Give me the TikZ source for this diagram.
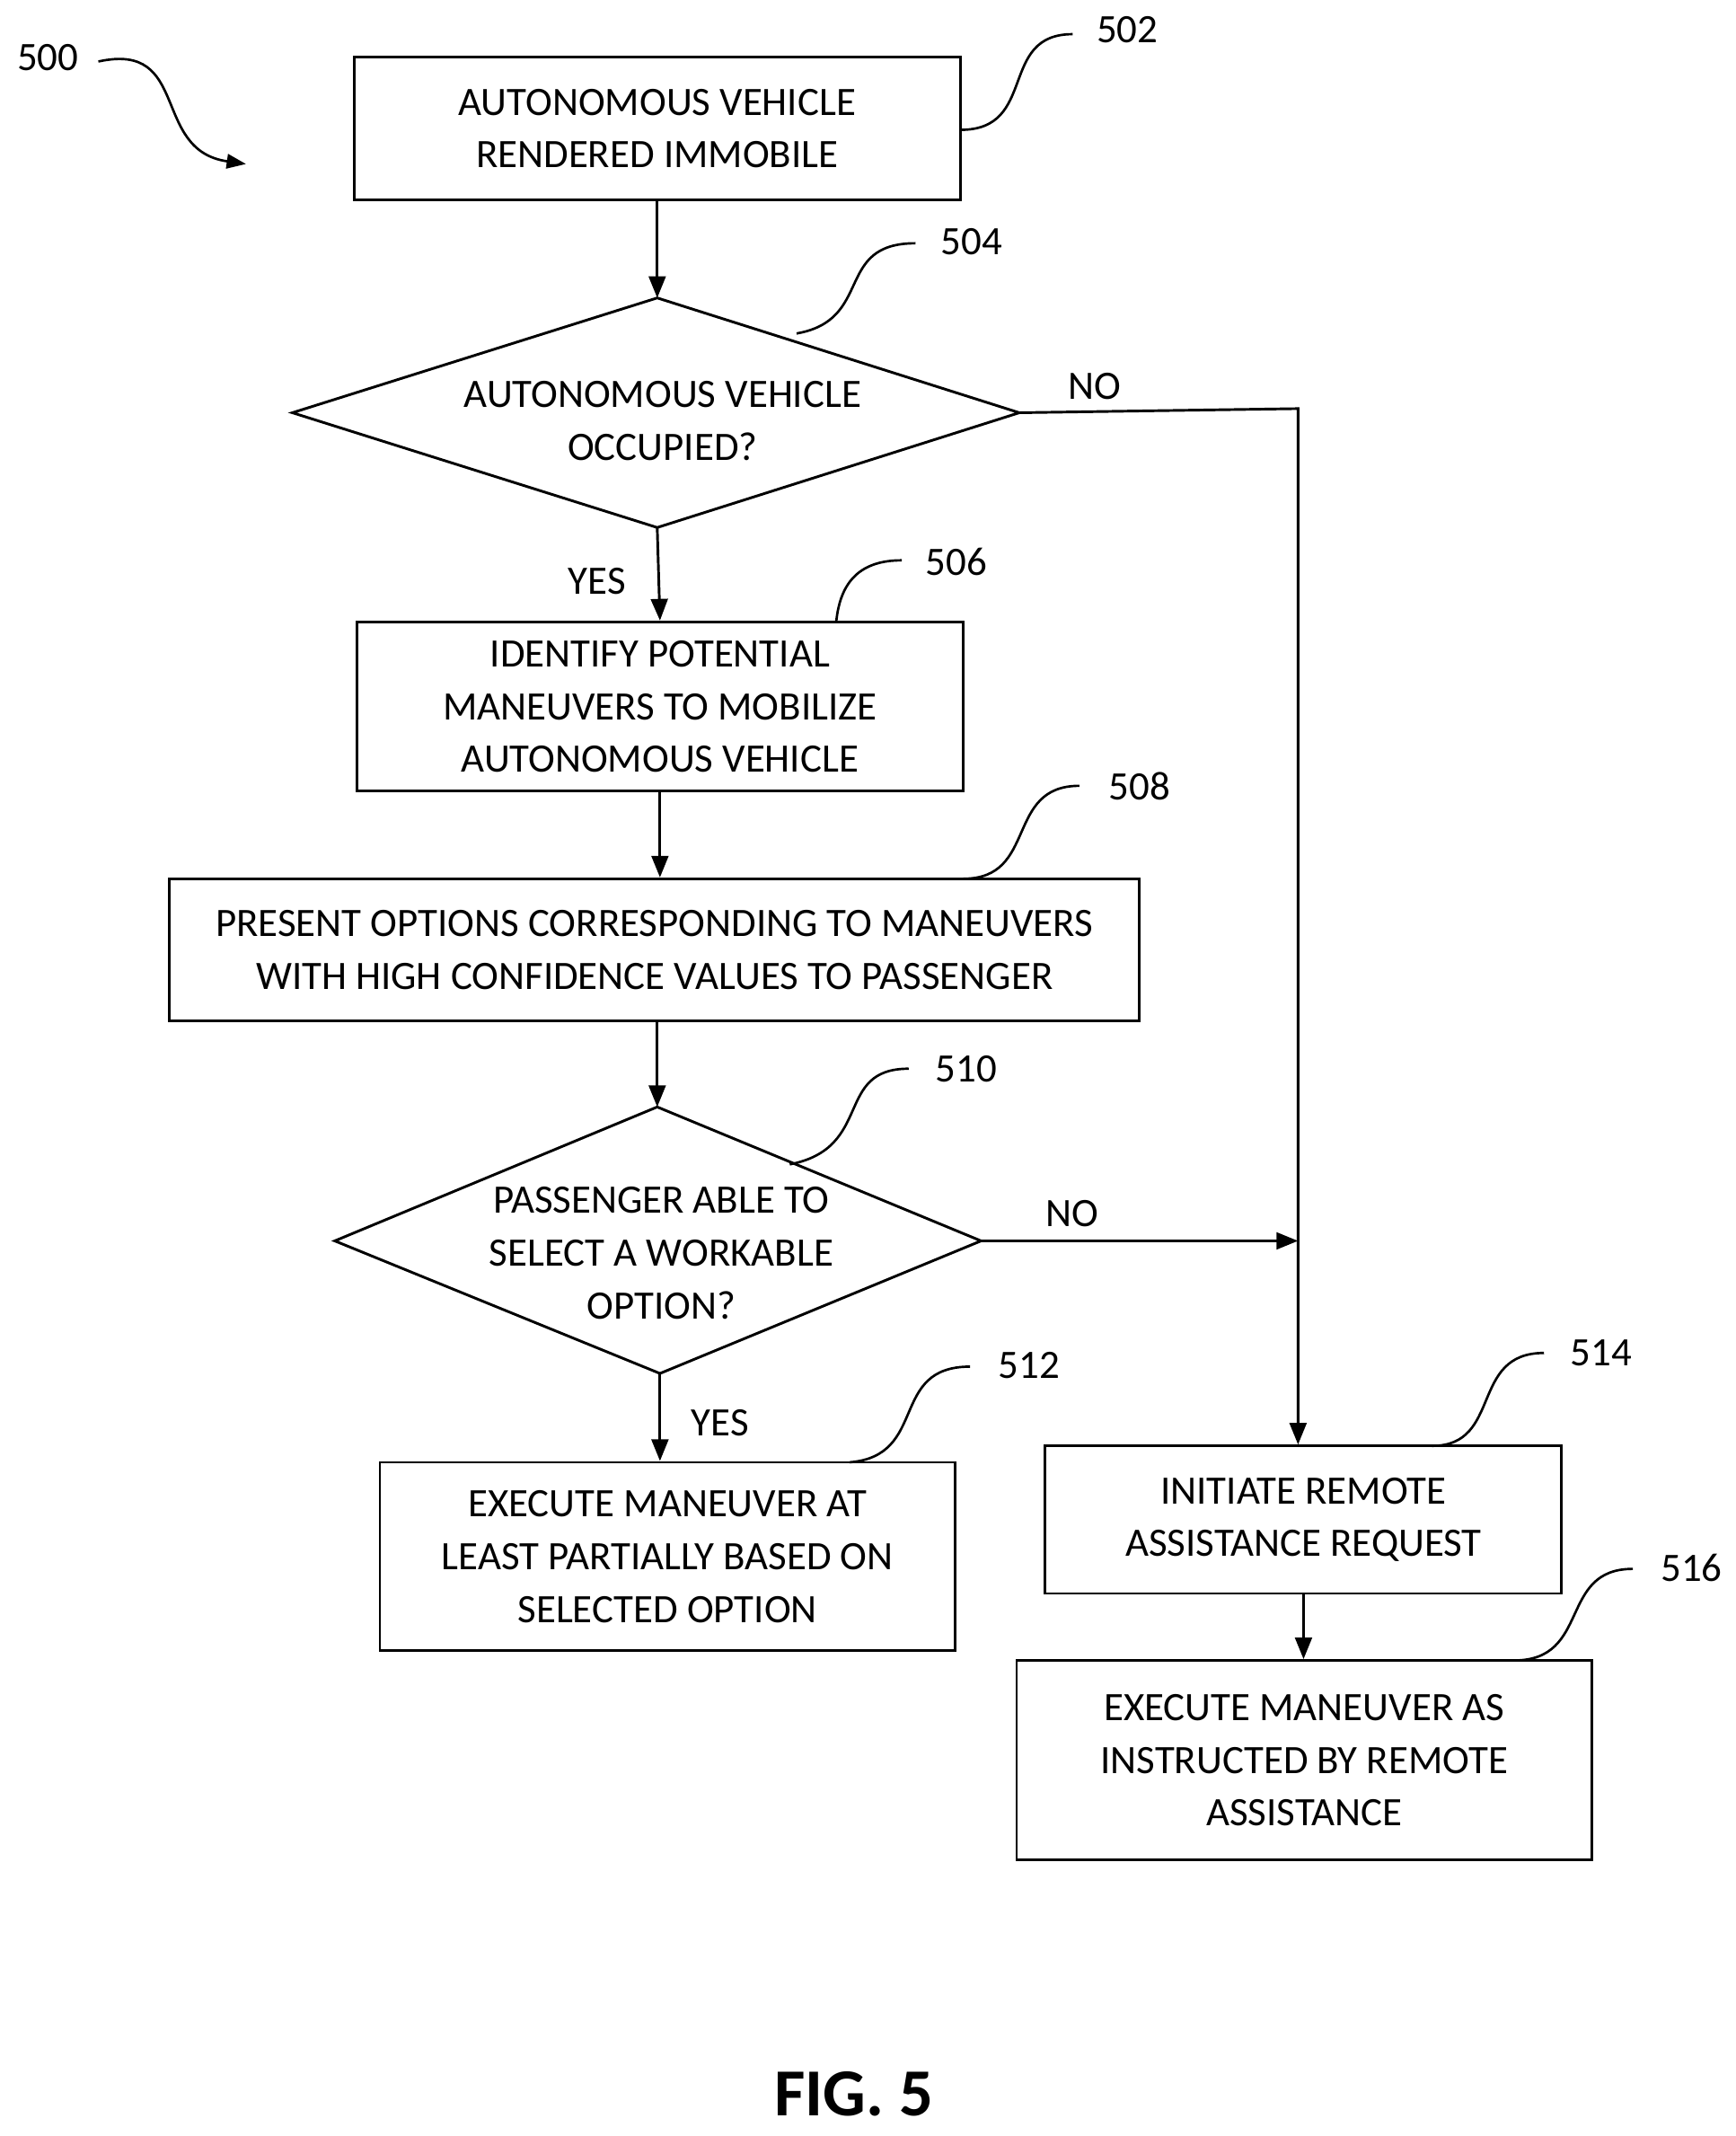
\documentclass[tikz,border=0pt]{standalone}
\usepackage{fontspec}
\setmainfont{Carlito}
\usetikzlibrary{arrows.meta}
\begin{document}
\begin{tikzpicture}[x=0.02cm,y=-0.02cm,
  every node/.style={font=\fontsize{16.8}{22}\selectfont},
  box/.style={draw,line width=1.1pt,align=center,inner sep=0pt},
  ln/.style={line width=1.1pt},
  arr/.style={line width=1.1pt,-{Triangle[length=9pt,width=7pt]}},
  lead/.style={line width=1pt}]
\useasboundingbox (0,0) rectangle (1270,1563);
% boxes
\node[box,minimum width=8.88cm,minimum height=2.08cm] (b502) at (481,94) {AUTONOMOUS VEHICLE\\RENDERED IMMOBILE};
\node[box,minimum width=8.88cm,minimum height=2.48cm] (b506) at (483,517) {IDENTIFY POTENTIAL\\MANEUVERS TO MOBILIZE\\AUTONOMOUS VEHICLE};
\node[box,minimum width=14.2cm,minimum height=2.08cm] (b508) at (479,695) {PRESENT OPTIONS CORRESPONDING TO MANEUVERS\\WITH HIGH CONFIDENCE VALUES TO PASSENGER};
\node[box,minimum width=8.42cm,minimum height=2.76cm] (b512) at (488.5,1139) {EXECUTE MANEUVER AT\\LEAST PARTIALLY BASED ON\\SELECTED OPTION};
\node[box,minimum width=7.56cm,minimum height=2.16cm] (b514) at (954,1112) {INITIATE REMOTE\\ASSISTANCE REQUEST};
\node[box,minimum width=8.42cm,minimum height=2.92cm] (b516) at (954.5,1288) {EXECUTE MANEUVER AS\\INSTRUCTED BY REMOTE\\ASSISTANCE};
% diamond 504
\coordinate (d4l) at (214,302); \coordinate (d4t) at (481,218);
\coordinate (d4r) at (746,302); \coordinate (d4b) at (481,386);
\draw[ln] (d4l)--(d4t)--(d4r)--(d4b)--cycle;
\node[align=center] (t504) at (485,308) {AUTONOMOUS VEHICLE\\OCCUPIED?};
% diamond 510
\coordinate (d0l) at (245,908); \coordinate (d0t) at (481,810);
\coordinate (d0r) at (718,908); \coordinate (d0b) at (483,1005);
\draw[ln] (d0l)--(d0t)--(d0r)--(d0b)--cycle;
\node[align=center] (t510) at (484,917) {PASSENGER ABLE TO\\SELECT A WORKABLE\\OPTION?};
% connectors
\draw[arr] (b502.south) -- (d4t);
\draw[arr] (d4b) -- (b506.north);
\draw[arr] (b506.south) -- (b508.north -| b506.south);
\draw[arr] (b508.south -| d0t) -- (d0t);
\draw[arr] (d0b) -- (b512.north -| d0b);
\coordinate (c1) at (950,299);
\draw[arr] (d4r) -- (c1) -- (b514.north -| c1);
\coordinate (c2) at (950,908);
\draw[arr] (d0r) -- (c2);
\draw[arr] (b514.south) -- (b516.north -| b514.south);
% labels
\node (n1) at (801,283) {NO};
\node (y1) at (437,425) {YES};
\node (n2) at (785,888) {NO};
\node (y2) at (527,1041) {YES};
% reference numerals with leaders
\node (r502) at (825,22) {502};
\draw[lead] (703,95) .. controls (760,95) and (730,25) .. (785,25);
\node (r504) at (711,177) {504};
\draw[lead] (583,244) .. controls (640,234) and (610,178) .. (670,178);
\node (r506) at (700,411) {506};
\draw[lead] (612,455) .. controls (615,425) and (630,410) .. (660,410);
\node (r508) at (834,575) {508};
\draw[lead] (705,643) .. controls (760,643) and (735,575) .. (790,575);
\node (r510) at (707,782) {510};
\draw[lead] (578,852) .. controls (640,840) and (610,782) .. (665,782);
\node (r512) at (753,999) {512};
\draw[lead] (622,1070) .. controls (680,1065) and (650,1000) .. (710,1000);
\node (r514) at (1172,990) {514};
\draw[lead] (1048,1058) .. controls (1100,1058) and (1075,990) .. (1130,990);
\node (r516) at (1238,1147) {516};
\draw[lead] (1108,1215) .. controls (1165,1215) and (1140,1148) .. (1195,1148);
\node (r500) at (35,42) {500};
\draw[lead,-{Triangle[length=8pt,width=6pt]}] (72,45) .. controls (140,30) and (110,110) .. (180,120);
\node[font=\fontsize{28}{32}\selectfont\bfseries] (fig) at (625,1532) {FIG. 5};
\end{tikzpicture}
\end{document}
